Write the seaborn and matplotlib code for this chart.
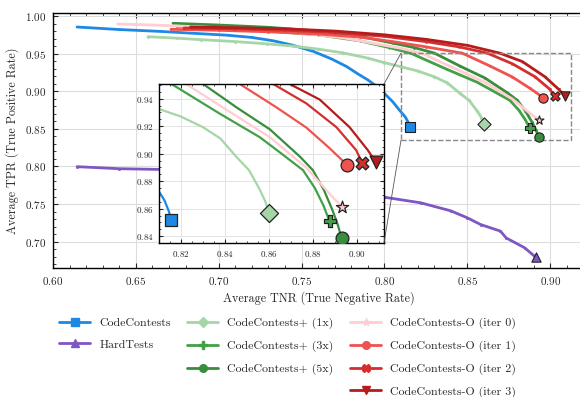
import matplotlib
matplotlib.use("Agg")
import matplotlib.pyplot as plt
import seaborn as sns
import pandas as pd
from matplotlib.lines import Line2D
from matplotlib.patches import Rectangle, ConnectionPatch
from matplotlib.ticker import MultipleLocator, AutoMinorLocator

# ---------------- data (TNR, TPR) ----------------
names = ["CodeContests", "HardTests", "CodeContests+ (1x)", "CodeContests+ (3x)",
         "CodeContests+ (5x)", "CodeContests-O (iter 0)", "CodeContests-O (iter 1)",
         "CodeContests-O (iter 2)", "CodeContests-O (iter 3)"]

cc_x = [0.6145, 0.640, 0.665, 0.689, 0.705, 0.720, 0.733, 0.745, 0.757, 0.768, 0.777, 0.784,
        0.790, 0.795, 0.800, 0.805, 0.809, 0.8125, 0.8145, 0.8155]
cc_y = [0.9854, 0.982, 0.9795, 0.9765, 0.9745, 0.9715, 0.967, 0.961, 0.953, 0.943, 0.933, 0.923,
        0.915, 0.907, 0.897, 0.886, 0.875, 0.866, 0.858, 0.852]

ht_x = [0.6145, 0.640, 0.665, 0.700, 0.740, 0.770, 0.790, 0.8003, 0.822, 0.840, 0.850,
        0.858, 0.870, 0.8734, 0.8845, 0.8912]
ht_y = [0.7997, 0.797, 0.796, 0.792, 0.784, 0.774, 0.764, 0.759, 0.7516, 0.741, 0.7317,
        0.7228, 0.714, 0.705, 0.692, 0.6795]

p1_x = [0.6573, 0.675, 0.689, 0.710, 0.729, 0.745, 0.760, 0.775, 0.790, 0.800, 0.810,
        0.820, 0.830, 0.838, 0.8453, 0.851, 0.8559, 0.8585, 0.8601]
p1_y = [0.9725, 0.9705, 0.9686, 0.966, 0.963, 0.960, 0.956, 0.951, 0.944, 0.938, 0.9325,
        0.927, 0.9193, 0.911, 0.8976, 0.888, 0.8739, 0.865, 0.8567]

p3_x = [0.675, 0.700, 0.730, 0.760, 0.785, 0.803, 0.8157, 0.8378, 0.8559, 0.865, 0.8756,
        0.881, 0.885, 0.8877]
p3_y = [0.986, 0.984, 0.980, 0.975, 0.967, 0.958, 0.9507, 0.929, 0.912, 0.901, 0.888,
        0.875, 0.862, 0.8507]

p5_x = [0.6724, 0.700, 0.730, 0.760, 0.785, 0.805, 0.818, 0.8301, 0.8453, 0.8605, 0.8741,
        0.8801, 0.885, 0.889, 0.8915, 0.8932]
p5_y = [0.9903, 0.988, 0.985, 0.980, 0.973, 0.964, 0.958, 0.9507, 0.9337, 0.9177, 0.898,
        0.888, 0.874, 0.859, 0.848, 0.8385]

o0_x = [0.639, 0.660, 0.690, 0.720, 0.750, 0.775, 0.795, 0.810, 0.8223, 0.8405, 0.8605,
        0.8771, 0.8893, 0.8935]
o0_y = [0.9894, 0.988, 0.9855, 0.982, 0.977, 0.971, 0.963, 0.957, 0.9507, 0.9322, 0.912,
        0.8898, 0.868, 0.8615]

o1_x = [0.6712, 0.700, 0.730, 0.760, 0.785, 0.805, 0.825, 0.8468, 0.8635, 0.8771, 0.8877,
        0.8937, 0.8955]
o1_y = [0.9823, 0.981, 0.979, 0.976, 0.972, 0.966, 0.959, 0.9507, 0.9337, 0.919, 0.904,
        0.8948, 0.8915]

o2_x = [0.679, 0.710, 0.740, 0.770, 0.800, 0.825, 0.845, 0.862, 0.8771, 0.8908, 0.8998, 0.9027]
o2_y = [0.984, 0.983, 0.981, 0.978, 0.973, 0.966, 0.959, 0.9507, 0.9366, 0.9193, 0.9026, 0.893]

o3_x = [0.683, 0.710, 0.740, 0.770, 0.800, 0.825, 0.850, 0.8695, 0.8832, 0.8968, 0.9051, 0.9087]
o3_y = [0.9855, 0.9845, 0.983, 0.980, 0.975, 0.969, 0.961, 0.9507, 0.9394, 0.9193, 0.9026, 0.894]

xs = [cc_x, ht_x, p1_x, p3_x, p5_x, o0_x, o1_x, o2_x, o3_x]
ys = [cc_y, ht_y, p1_y, p3_y, p5_y, o0_y, o1_y, o2_y, o3_y]

colors = ["#1E88E5", "#7E57C2", "#A5D6A7", "#43A047", "#388E3C",
          "#FFCDD2", "#EF5350", "#D32F2F", "#B71C1C"]
markers = ["s", "^", "D", "P", "o", "*", "o", "X", "v"]

main_xlim = (0.60, 0.921)
main_ylim = (0.665, 1.004)
zoom_xlim = (0.81, 0.9125)
zoom_ylim = (0.835, 0.9507)

# ---------------- style ----------------
sns.set_style("ticks")
plt.rcParams.update({
    "font.family": "serif",
    "font.serif": ["cmr10", "DejaVu Serif"],
    "mathtext.fontset": "cm",
    "axes.formatter.use_mathtext": True,
    "axes.unicode_minus": False,
    "xtick.direction": "in",
    "ytick.direction": "in",
    "xtick.top": True,
    "ytick.right": True,
    "axes.edgecolor": "black",
    "axes.linewidth": 1.0,
})

fig = plt.figure(figsize=(5.8, 3.97), dpi=100)
ax = fig.add_axes([53 / 580, 1 - 268 / 397, 532 / 580, 255 / 397])

for n, x, y, c, m in zip(names, xs, ys, colors, markers):
    df = pd.DataFrame({"TNR": x, "TPR": y})
    sns.lineplot(data=df, x="TNR", y="TPR", sort=False, estimator=None, ax=ax,
                 color=c, lw=2.0, marker=m, markersize=2.0, markeredgewidth=0,
                 legend=False, zorder=2)
    sns.scatterplot(x=[x[-1]], y=[y[-1]], ax=ax, marker=m, color=c, s=45,
                    edgecolor="#222222", linewidth=0.8, zorder=4, legend=False)

ax.set_xlim(*main_xlim)
ax.set_ylim(*main_ylim)
ax.xaxis.set_major_locator(MultipleLocator(0.05))
ax.xaxis.set_minor_locator(MultipleLocator(0.01))
ax.yaxis.set_major_locator(MultipleLocator(0.05))
ax.yaxis.set_minor_locator(MultipleLocator(0.01))
ax.tick_params(which="major", length=3.5, width=0.8, labelsize=8, pad=5)
ax.tick_params(which="minor", length=2, width=0.6)
ax.grid(True, which="major", color="#dddddd", lw=0.8)
ax.set_axisbelow(True)
ax.set_xlabel("Average TNR (True Negative Rate)", fontsize=8.7, labelpad=3)
ax.set_ylabel("Average TPR (True Positive Rate)", fontsize=8.7, labelpad=4)

# zoom rectangle
rect = Rectangle((zoom_xlim[0], zoom_ylim[0]), zoom_xlim[1] - zoom_xlim[0],
                 zoom_ylim[1] - zoom_ylim[0], fill=False, ls="--", lw=1.0,
                 edgecolor="#888888", zorder=3)
ax.add_patch(rect)

# ---------------- inset ----------------
axins = fig.add_axes([159 / 580, 1 - 243 / 397, 225 / 580, 159 / 397])
axins.set_facecolor("white")
for n, x, y, c, m in zip(names, xs, ys, colors, markers):
    df = pd.DataFrame({"TNR": x, "TPR": y})
    sns.lineplot(data=df, x="TNR", y="TPR", sort=False, estimator=None, ax=axins,
                 color=c, lw=1.6, legend=False, zorder=2)
    sns.scatterplot(x=[x[-1]], y=[y[-1]], ax=axins, marker=m, color=c, s=85,
                    edgecolor="#222222", linewidth=0.9, zorder=4, legend=False)
axins.set_xlim(*zoom_xlim)
axins.set_ylim(*zoom_ylim)
axins.xaxis.set_major_locator(MultipleLocator(0.02))
axins.xaxis.set_minor_locator(AutoMinorLocator(4))
axins.yaxis.set_major_locator(MultipleLocator(0.02))
axins.yaxis.set_minor_locator(AutoMinorLocator(4))
axins.tick_params(which="major", length=3, width=0.8, labelsize=6.5, pad=4)
axins.tick_params(which="minor", length=1.6, width=0.6)
axins.grid(True, which="major", color="#e3e3e3", lw=0.7)
axins.set_axisbelow(True)
axins.set_xlabel("")
axins.set_ylabel("")

# connectors: rectangle left corners -> inset right corners
for yy, ay in [(zoom_ylim[1], 1.0), (zoom_ylim[0], 0.0)]:
    cp = ConnectionPatch(xyA=(zoom_xlim[0], yy), coordsA=ax.transData,
                         xyB=(1.0, ay), coordsB=axins.transAxes,
                         color="#555555", lw=0.6, zorder=10)
    fig.add_artist(cp)

# ---------------- legend ----------------
def h(c, m):
    return Line2D([], [], color=c, lw=2, marker=m, markersize=5.5, markeredgecolor=c)

blank = Line2D([], [], alpha=0)
handles = [h(colors[0], markers[0]), h(colors[1], markers[1]), blank, blank,
           h(colors[2], markers[2]), h(colors[3], markers[3]), h(colors[4], markers[4]), blank,
           h(colors[5], markers[5]), h(colors[6], markers[6]), h(colors[7], markers[7]),
           h(colors[8], markers[8])]
labels = [names[0], names[1], "", "", names[2], names[3], names[4], "",
          names[5], names[6], names[7], names[8]]
fig.legend(handles, labels, ncol=3, loc="center", bbox_to_anchor=(0.496, 0.099),
           frameon=False, fontsize=8.6, handlelength=2.6, handletextpad=0.75,
           columnspacing=1.4, labelspacing=0.95)

fig.savefig("out.png", dpi=100)
